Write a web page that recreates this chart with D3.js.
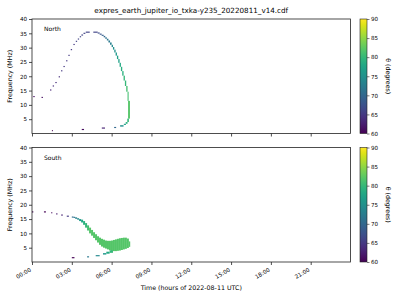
<!DOCTYPE html>
<html>
<head>
<meta charset="utf-8">
<script src="https://cdn.jsdelivr.net/npm/d3@7"></script>
<style>
body { margin: 0; background: #fff; }
text { font-family: "DejaVu Sans", sans-serif; fill: #000; }
</style>
</head>
<body>
<div id="chart"></div>
<script>

// each cell: [start hour, end hour, freq low (MHz), freq high (MHz), theta (deg)]
var northCells = [
    [0.10, 0.20, 12.7, 13.1, 61],
    [0.72, 0.82, 12.4, 12.8, 61],
    [1.36, 1.46, 15.0, 15.4, 63],
    [1.56, 1.66, 16.4, 16.8, 64],
    [1.76, 1.86, 17.6, 18.0, 64],
    [2.01, 2.11, 19.6, 20.0, 64],
    [2.19, 2.29, 21.7, 22.1, 65],
    [2.37, 2.47, 23.2, 23.6, 65],
    [2.57, 2.67, 25.2, 25.6, 65],
    [2.74, 2.84, 27.1, 27.5, 65],
    [2.92, 3.02, 29.1, 29.5, 65],
    [3.12, 3.22, 30.9, 31.3, 65],
    [3.30, 3.40, 32.0, 32.4, 66],
    [3.45, 3.55, 32.8, 33.2, 66],
    [3.60, 3.70, 33.6, 34.0, 66],
    [3.72, 3.85, 34.2, 34.6, 66],
    [3.88, 4.02, 34.8, 35.2, 66],
    [4.05, 4.35, 35.2, 35.6, 66],
    [4.62, 4.95, 35.2, 35.6, 66],
    [4.95, 5.10, 34.9, 35.3, 67],
    [5.10, 5.25, 34.5, 34.9, 68],
    [5.25, 5.40, 34.1, 34.5, 69],
    [5.40, 5.52, 33.6, 34.1, 70],
    [5.52, 5.64, 33.1, 33.6, 71],
    [5.64, 5.76, 32.5, 33.1, 72],
    [5.76, 5.88, 31.8, 32.5, 72],
    [5.88, 6.00, 31.0, 31.8, 73],
    [6.00, 6.10, 30.2, 31.0, 74],
    [6.10, 6.20, 29.3, 30.2, 75],
    [6.20, 6.30, 28.3, 29.3, 75],
    [6.30, 6.40, 27.2, 28.3, 76],
    [6.40, 6.50, 26.0, 27.2, 77],
    [6.50, 6.60, 24.7, 26.0, 77],
    [6.60, 6.70, 23.3, 24.7, 78],
    [6.70, 6.80, 21.8, 23.3, 79],
    [6.80, 6.90, 20.2, 21.8, 79],
    [6.90, 7.00, 18.5, 20.2, 80],
    [7.00, 7.10, 16.6, 18.5, 80],
    [7.10, 7.20, 14.6, 16.6, 81],
    [7.20, 7.28, 11.4, 14.6, 81],
    [7.24, 7.38, 5.2, 11.4, 82],
    [7.18, 7.30, 4.0, 5.2, 80],
    [7.06, 7.20, 3.4, 4.0, 79],
    [6.92, 7.08, 3.0, 3.4, 77],
    [6.64, 6.90, 2.4, 2.9, 75],
    [6.19, 6.34, 1.9, 2.3, 70],
    [5.26, 5.50, 1.7, 2.1, 63],
    [3.75, 3.92, 1.2, 1.6, 61],
    [1.50, 1.57, 0.8, 1.2, 60]
];

var southCells = [
    [0.00, 0.10, 17.3, 17.7, 60],
    [0.90, 1.05, 17.3, 17.7, 60],
    [1.45, 1.53, 17.0, 17.4, 61],
    [1.82, 1.92, 16.6, 17.0, 62],
    [2.20, 2.32, 16.2, 16.6, 63],
    [2.62, 2.78, 15.8, 16.2, 65],
    [3.00, 3.12, 15.5, 15.9, 70],
    [3.12, 3.25, 15.4, 15.8, 72],
    [3.25, 3.40, 15.1, 15.6, 73],
    [3.40, 3.55, 14.8, 15.3, 74],
    [3.55, 3.70, 14.3, 15.0, 76],
    [3.70, 3.85, 13.8, 14.8, 78],
    [3.85, 4.00, 13.0, 14.3, 79],
    [4.00, 4.15, 12.0, 13.6, 80],
    [4.15, 4.30, 11.0, 12.8, 81],
    [4.30, 4.45, 10.0, 12.0, 82],
    [4.45, 4.60, 9.2, 11.2, 82],
    [4.60, 4.75, 8.4, 10.4, 82],
    [4.75, 4.90, 7.6, 9.7, 82],
    [4.90, 5.05, 6.8, 9.0, 82],
    [5.05, 5.20, 6.0, 8.5, 82],
    [5.20, 5.35, 5.4, 8.1, 82],
    [5.35, 5.50, 5.0, 7.8, 82],
    [5.50, 5.65, 4.7, 7.5, 82],
    [5.65, 5.80, 4.4, 7.4, 82],
    [5.80, 5.95, 4.1, 7.4, 82],
    [5.95, 6.10, 3.9, 7.5, 82],
    [6.10, 6.25, 3.8, 7.7, 82],
    [6.25, 6.40, 3.8, 7.9, 82],
    [6.40, 6.55, 3.9, 8.1, 82],
    [6.55, 6.70, 4.0, 8.3, 82],
    [6.70, 6.85, 4.2, 8.4, 82],
    [6.85, 7.00, 4.4, 8.5, 82],
    [7.00, 7.15, 4.6, 8.5, 82],
    [7.15, 7.30, 4.9, 8.2, 82],
    [7.30, 7.40, 5.3, 7.2, 82],
    [3.00, 3.20, 1.3, 1.7, 60],
    [4.15, 4.30, 1.6, 2.0, 72],
    [4.80, 5.10, 2.0, 2.4, 74],
    [5.35, 5.60, 2.6, 3.1, 76],
    [5.60, 5.85, 2.9, 3.6, 78],
    [5.85, 6.10, 3.2, 4.1, 80]
];

var hourTicks = [0, 3, 6, 9, 12, 15, 18, 21];
var hourLabels = ["00:00", "03:00", "06:00", "09:00", "12:00", "15:00", "18:00", "21:00"];
var freqTicks = [5, 10, 15, 20, 25, 30, 35, 40];
var thetaTicks = [60, 65, 70, 75, 80, 85, 90];

var titleText = "expres_earth_jupiter_io_txka-y235_20220811_v14.cdf";
var panels = [
    {name: "North", cells: northCells, top: 19},
    {name: "South", cells: southCells, top: 147.5}
];

var W = 400, H = 300;
var left = 32, right = 350.5, panelH = 114.5;
var cbLeft = 360, cbWidth = 7;

var x = d3.scaleLinear().domain([0, 24]).range([left, right]);
var color = d3.scaleSequential(d3.interpolateViridis).domain([60, 90]);

var svg = d3.select("#chart").append("svg")
        .attr("width", W)
        .attr("height", H);

// colorbar gradient
var grad = svg.append("defs").append("linearGradient")
        .attr("id", "viridis")
        .attr("x1", 0).attr("y1", 1).attr("x2", 0).attr("y2", 0);
d3.range(0, 1.0001, 0.05).forEach(function(t) {
    grad.append("stop")
        .attr("offset", t)
        .attr("stop-color", d3.interpolateViridis(t));
});

svg.append("text")
        .attr("x", (left + right) / 2)
        .attr("y", 13)
        .attr("text-anchor", "middle")
        .style("font-size", "7.2px")
        .text(titleText);

panels.forEach(function(p, i) {
    var y = d3.scaleLinear().domain([0, 40]).range([p.top + panelH, p.top]);

    var g = svg.append("g");

    g.selectAll("rect.cell")
        .data(p.cells)
      .enter().append("rect")
        .attr("class", "cell")
        .attr("x", function(d) { return x(d[0]); })
        .attr("width", function(d) { return Math.max(0.8, x(d[1]) - x(d[0])); })
        .attr("y", function(d) { return y(d[3]); })
        .attr("height", function(d) { return Math.max(0.8, y(d[2]) - y(d[3])); })
        .attr("fill", function(d) { return color(d[4]); });

    // frame
    g.append("rect")
        .attr("x", left)
        .attr("y", p.top)
        .attr("width", right - left)
        .attr("height", panelH)
        .attr("fill", "none")
        .attr("stroke", "#222")
        .attr("stroke-width", 0.8);

    var yAxis = d3.axisLeft(y).tickValues(freqTicks).tickSize(3).tickPadding(2);
    var ya = g.append("g")
        .attr("transform", "translate(" + left + ",0)")
        .call(yAxis);
    ya.select(".domain").remove();
    ya.selectAll("line").attr("stroke", "#222").attr("stroke-width", 0.8);
    ya.selectAll("text").style("font-size", "5.6px").attr("fill", "#000");

    var xAxis = d3.axisBottom(x).tickValues(hourTicks).tickSize(3)
        .tickFormat(function(d, k) { return i == 1 ? hourLabels[k] : ""; });
    var xa = g.append("g")
        .attr("transform", "translate(0," + (p.top + panelH) + ")")
        .call(xAxis);
    xa.select(".domain").remove();
    xa.selectAll("line").attr("stroke", "#222").attr("stroke-width", 0.8);
    xa.selectAll("text")
        .style("font-size", "5.6px")
        .attr("fill", "#000")
        .attr("y", 0)
        .attr("x", 0)
        .attr("dy", 0)
        .attr("transform", "translate(-1,9) rotate(-30)")
        .style("text-anchor", "end");

    g.append("text")
        .attr("x", left + 12)
        .attr("y", p.top + 12)
        .style("font-size", "6px")
        .text(p.name);

    g.append("text")
        .attr("transform", "translate(12," + (p.top + panelH / 2) + ") rotate(-90)")
        .attr("text-anchor", "middle")
        .style("font-size", "6.3px")
        .text("Frequency (MHz)");

    // colorbar
    var cy = d3.scaleLinear().domain([60, 90]).range([p.top + panelH, p.top]);
    g.append("rect")
        .attr("x", cbLeft)
        .attr("y", p.top)
        .attr("width", cbWidth)
        .attr("height", panelH)
        .attr("fill", "url(#viridis)")
        .attr("stroke", "#222")
        .attr("stroke-width", 0.6);
    var ca = g.append("g")
        .attr("transform", "translate(" + (cbLeft + cbWidth) + ",0)")
        .call(d3.axisRight(cy).tickValues(thetaTicks).tickSize(2.5).tickPadding(1.5));
    ca.select(".domain").remove();
    ca.selectAll("line").attr("stroke", "#222").attr("stroke-width", 0.6);
    ca.selectAll("text").style("font-size", "5.6px").attr("fill", "#000");

    g.append("text")
        .attr("transform", "translate(386," + (p.top + panelH / 2) + ") rotate(90)")
        .attr("text-anchor", "middle")
        .style("font-size", "6.3px")
        .text("\u03b8 (degrees)");
});

svg.append("text")
        .attr("x", (left + right) / 2)
        .attr("y", 290)
        .attr("text-anchor", "middle")
        .style("font-size", "6.3px")
        .text("Time (hours of 2022-08-11 UTC)");

</script>
</body>
</html>
